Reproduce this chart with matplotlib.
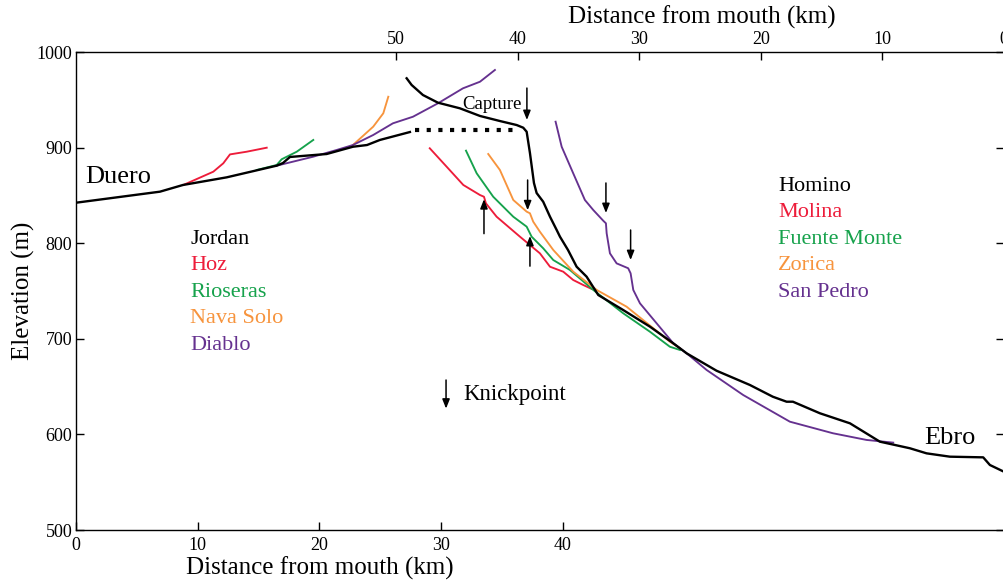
import matplotlib
matplotlib.use("Agg")
import matplotlib.pyplot as plt

plt.rcParams["font.family"] = ["Liberation Serif", "DejaVu Serif"]

# colours
black = "black"
red = "#ed1c3a"
green = "#16a24c"
orange = "#f7943d"
purple = "#65318f"

# length of the bottom axis (km); the top axis counts back from its right end
x_total = 76.3

# --- Duero side (bottom axis distance) ---
duero_x = [0, 6.88, 8.77, 12.37, 16.48, 17.0, 17.57, 20.59, 22.75, 23.91, 24.97, 27.44]
duero_y = [842.4, 853.9, 860.9, 868.9, 881.1, 883.9, 890.2, 893.3, 900.9, 902.7, 908.0, 916.3]

hoz_x = [8.80, 11.27, 12.09, 12.64, 14.01, 15.66]
hoz_y = [860.9, 874.8, 883.6, 892.9, 895.7, 899.9]

rioseras_x = [14.84, 16.48, 16.89, 18.13, 19.49]
rioseras_y = [876.6, 881.8, 887.8, 895.7, 908.0]

navasolo_x = [22.75, 24.42, 25.25, 25.66]
navasolo_y = [902.7, 921.9, 935.9, 953.2]

diablo_x = [16.48, 19.49, 21.41, 22.75, 24.42, 25.80, 26.04, 27.69, 29.74, 31.80, 33.20, 34.43]
diablo_y = [881.1, 890.5, 897.5, 902.7, 913.2, 923.6, 925.4, 932.3, 946.3, 962.0, 968.9, 981.2]

# abandoned valley (dotted)
paleo_x = [27.85, 36.22]
paleo_y = [918.9, 918.9]

# --- Ebro side ---
ebro_x = [27.17, 27.58, 28.51, 29.74, 31.55, 33.20, 34.84, 36.22, 36.76, 37.04, 37.31,
          37.64, 37.86, 38.40, 38.96, 39.51, 39.78, 40.44, 41.15, 41.97, 42.93, 44.98,
          47.18, 49.10, 50.20, 52.66, 55.40, 57.29, 58.42, 58.94, 61.16, 63.63, 66.09,
          68.56, 69.93, 71.85, 74.59, 75.14, 76.29]
ebro_y = [972.5, 965.5, 955.0, 947.0, 941.1, 933.1, 927.8, 923.6, 920.8, 916.6, 894.4,
          863.0, 852.5, 843.4, 827.7, 813.8, 806.8, 792.9, 775.4, 765.0, 745.8, 730.1,
          712.7, 695.3, 684.8, 666.6, 651.7, 639.4, 634.2, 634.2, 622.1, 611.6, 592.4,
          585.5, 580.2, 576.7, 576.0, 568.0, 561.0]

molina_x = [29.07, 30.46, 31.83, 33.20, 33.53, 33.69, 34.57, 36.49, 38.13, 38.96, 40.05,
            40.87, 41.69, 42.40]
molina_y = [899.3, 880.0, 860.9, 850.4, 848.6, 841.7, 827.7, 806.8, 789.4, 775.4, 770.2,
            761.5, 756.3, 752.1]

fuente_x = [32.05, 32.93, 34.29, 35.94, 37.04, 37.45, 38.40, 39.23, 40.60, 42.52, 44.98,
            47.18, 48.82, 49.65]
fuente_y = [896.8, 873.1, 848.6, 827.7, 817.3, 806.8, 794.7, 782.4, 772.0, 751.1, 726.7,
            707.4, 691.7, 688.3]

zorica_x = [33.88, 34.84, 35.94, 37.04, 37.31, 37.58, 38.13, 39.23, 40.87, 42.80, 45.26,
            48.82, 49.65]
zorica_y = [893.3, 876.6, 845.2, 833.0, 831.3, 822.5, 812.0, 792.9, 770.2, 751.1, 733.6,
            697.0, 690.1]

sanpedro_x = [39.42, 39.92, 40.87, 41.83, 42.52, 43.34, 43.56, 43.62, 43.89, 44.44, 45.39,
              45.59, 45.81, 46.36, 47.73, 49.10, 50.20, 51.84, 54.85, 58.69, 62.23, 65.00,
              67.19]
sanpedro_y = [927.1, 900.9, 873.1, 845.2, 834.7, 823.5, 820.8, 810.4, 789.4, 778.9, 773.8,
              768.5, 751.1, 737.1, 716.2, 695.3, 684.8, 667.4, 641.2, 613.3, 601.2, 594.2,
              591.4]

# knickpoint arrows: (x, y_start, y_end)
arrows = [
    (37.06, 962.3, 928.9),   # capture
    (37.12, 866.1, 834.5),   # Zorica
    (33.53, 810.0, 846.0),   # Molina (up)
    (37.31, 776.0, 807.5),   # Fuente Monte (up)
    (43.56, 863.0, 831.6),   # San Pedro 1
    (45.59, 813.8, 782.4),   # San Pedro 2
    (30.41, 656.9, 627.0),   # key
]

jordan_names = ["Jordan", "Hoz", "Rioseras", "Nava Solo", "Diablo"]
jordan_y = [799.2, 771.5, 743.8, 716.2, 688.5]
homino_names = ["Homino", "Molina", "Fuente Monte", "Zorica", "San Pedro"]
homino_y = [854.9, 827.2, 799.5, 771.8, 744.1]
name_colors = [black, red, green, orange, purple]

fig = plt.figure(figsize=(10.04, 5.83), dpi=100)
ax = fig.add_axes([0.076, 0.0909, 0.924, 0.8199])

lw_main = 1.7
lw_trib = 1.35
ax.plot(duero_x, duero_y, color=black, lw=lw_main, zorder=3)
ax.plot(ebro_x, ebro_y, color=black, lw=lw_main, zorder=3)
ax.plot(paleo_x, paleo_y, color=black, lw=3.0, linestyle=(0, (1, 1.8)), zorder=3)

ax.plot(hoz_x, hoz_y, color=red, lw=lw_trib)
ax.plot(rioseras_x, rioseras_y, color=green, lw=lw_trib)
ax.plot(navasolo_x, navasolo_y, color=orange, lw=lw_trib)
ax.plot(diablo_x, diablo_y, color=purple, lw=lw_trib)

ax.plot(molina_x, molina_y, color=red, lw=lw_trib)
ax.plot(fuente_x, fuente_y, color=green, lw=lw_trib)
ax.plot(zorica_x, zorica_y, color=orange, lw=lw_trib)
ax.plot(sanpedro_x, sanpedro_y, color=purple, lw=lw_trib)

for x, y0, y1 in arrows:
    ax.annotate("", xy=(x, y1), xytext=(x, y0),
                arrowprops=dict(arrowstyle="-|>,head_length=0.55,head_width=0.22",
                                color="black", lw=1.1, shrinkA=0, shrinkB=0))

ax.text(31.72, 940.1, "Capture", fontsize=13.5, va="baseline", ha="left")
ax.text(0.75, 863.3, "Duero", fontsize=19, va="baseline", ha="left")
ax.text(69.7, 590.0, "Ebro", fontsize=19, va="baseline", ha="left")
ax.text(31.8, 636.0, "Knickpoint", fontsize=16.5, va="baseline", ha="left")

for name, y, c in zip(jordan_names, jordan_y, name_colors):
    ax.text(9.37, y, name, color=c, fontsize=16, va="baseline", ha="left")
for name, y, c in zip(homino_names, homino_y, name_colors):
    ax.text(57.73, y, name, color=c, fontsize=16, va="baseline", ha="left")

ax.set_xlim(0, x_total)
ax.set_ylim(500, 1000)
ax.set_xticks([0, 10, 20, 30, 40])
ax.set_yticks([500, 600, 700, 800, 900, 1000])
ax.tick_params(axis="both", direction="in", length=6, width=1.0, labelsize=13, pad=3)
ax.tick_params(axis="x", pad=5)
ax.tick_params(axis="y", right=True)
ax.spines["right"].set_visible(False)
ax.spines["top"].set_visible(False)
for s in ["left", "bottom"]:
    ax.spines[s].set_linewidth(1.0)

ax.set_xlabel("Distance from mouth (km)", fontsize=18)
ax.xaxis.set_label_coords(0.2627, -0.055)
ax.set_ylabel("Elevation (m)", fontsize=18)
ax.yaxis.set_label_coords(-0.045, 0.5)

top = ax.secondary_xaxis("top", functions=(lambda v: x_total - v, lambda v: x_total - v))
top.set_xticks([0, 10, 20, 30, 40, 50])
top.tick_params(direction="in", length=6, width=1.0, labelsize=13, pad=3)
top.spines["top"].set_linewidth(1.0)
ax.text(0.6745, 1.072, "Distance from mouth (km)", fontsize=18, ha="center", va="center",
        transform=ax.transAxes)

fig.savefig("out.png", dpi=100)
